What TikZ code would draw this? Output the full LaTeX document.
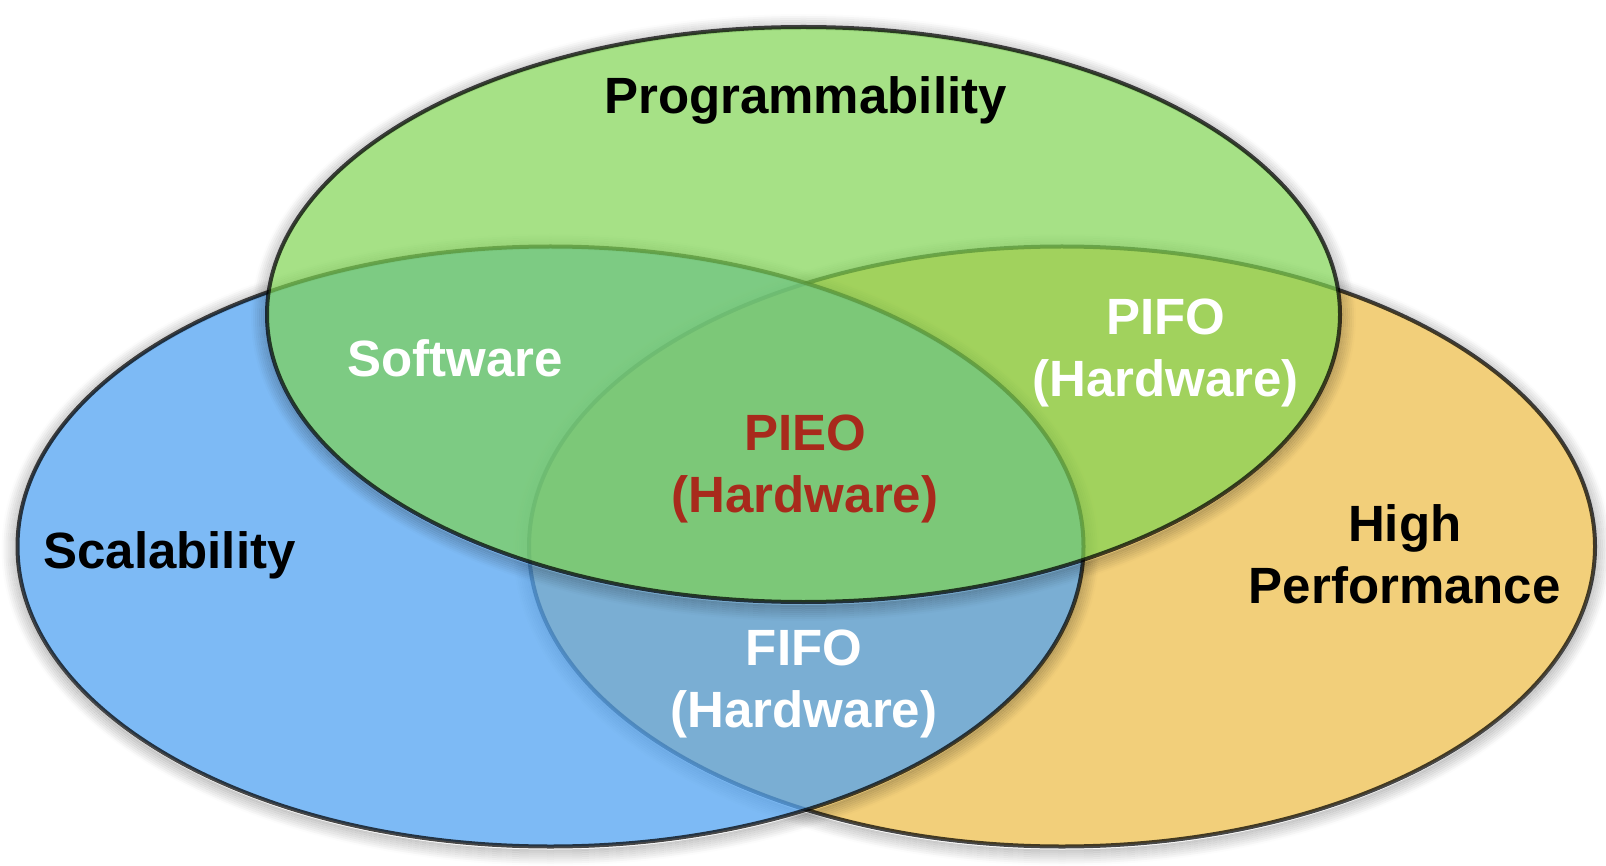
\documentclass[tikz,border=0pt]{standalone}
\usepackage{fontspec}
\setmainfont{Liberation Sans}

\definecolor{vorange}{RGB}{242,207,122}
\definecolor{vblue}{RGB}{82,163,241}
\definecolor{vgreen}{RGB}{126,212,80}
\definecolor{pieored}{RGB}{168,42,28}

% two centred lines, baseline on the last one
\newcommand\twolines[2]{\begin{tabular}[b]{@{}c@{}}#1\\#2\end{tabular}}

% soft drop shadow: stacked rings fading outwards, offset slightly down
\newcommand\softshadow[4]{%
  \foreach \d in {1,3,...,15}{%
    \pgfmathsetmacro\op{0.2*(16-\d)/15}%
    \draw[shadowring, draw opacity=\op]
      (#1,#2+3) ellipse [x radius=#3pt+\d pt, y radius=#4pt+\d pt];
  }}

\begin{document}
\begin{tikzpicture}[x=1pt,y=-1pt,
  venn/.style={draw=black, draw opacity=0.72, line width=4pt},
  shadowring/.style={draw=black, line width=2pt},
  setlabel/.style={font=\fontsize{51}{62}\selectfont\bfseries, inner sep=0pt, anchor=base},
]
\useasboundingbox (0,0) rectangle (1606,866);

% High Performance
\softshadow{1062}{546.5}{533}{300}
\path[venn, fill=vorange] (1062,546.5) ellipse [x radius=533pt, y radius=300pt];

% Scalability
\softshadow{550.5}{546.5}{533}{300}
\path[venn, fill=vblue, fill opacity=0.75] (550.5,546.5) ellipse [x radius=533pt, y radius=300pt];

% Programmability
\softshadow{803.5}{314.5}{536.5}{287.5}
\path[venn, fill=vgreen, fill opacity=0.69] (803.5,314.5) ellipse [x radius=536.5pt, y radius=287.5pt];

% set names
\node[setlabel, text=black] (prog) at (805.5,113.7) {Programmability};
\node[setlabel, text=black] (scal) at (169.5,568) {Scalability};
\node[setlabel, text=black] (perf) at (1404.7,603) {\twolines{High}{Performance}};

% intersections
\node[setlabel, text=white] (soft) at (455,377) {Software};
\node[setlabel, text=white] (pifo) at (1165.5,396) {\twolines{PIFO}{(Hardware)}};
\node[setlabel, text=pieored] (pieo) at (805,512) {\twolines{PIEO}{(Hardware)}};
\node[setlabel, text=white] (fifo) at (804,727) {\twolines{FIFO}{(Hardware)}};
\end{tikzpicture}
\end{document}
